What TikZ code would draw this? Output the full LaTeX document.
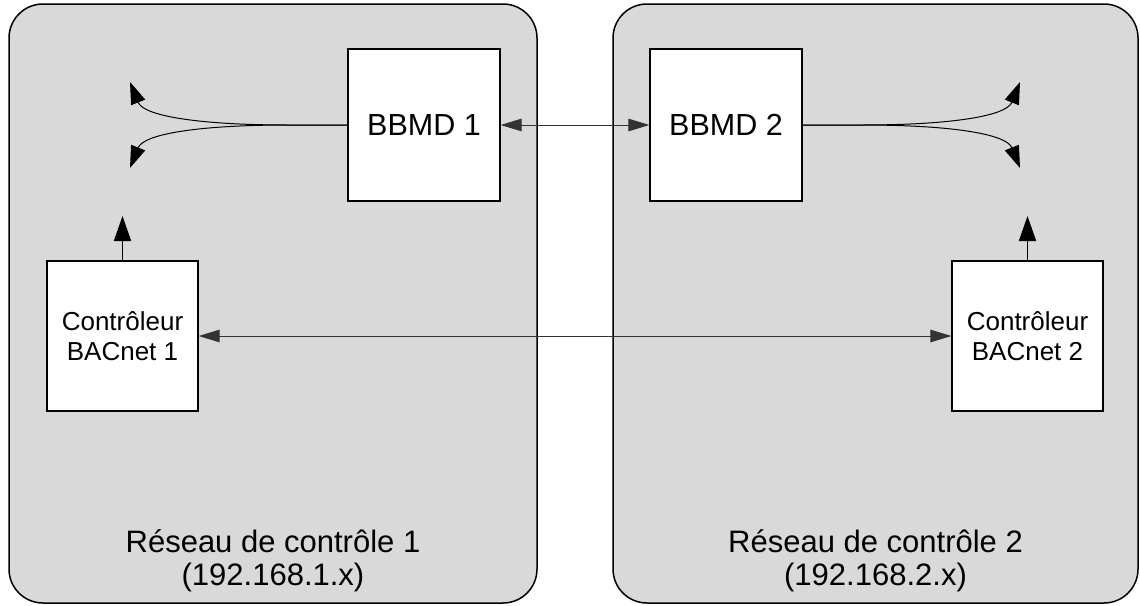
\documentclass[tikz,border=0pt]{standalone}
\usepackage{fontspec}
\setmainfont{Liberation Sans}
\usetikzlibrary{arrows.meta}
\definecolor{panelgray}{RGB}{217,217,217}
\begin{document}
\begin{tikzpicture}[x=1pt,y=-1pt,
  panel/.style={draw=black,line width=1.5pt,fill=panelgray,rounded corners=34pt},
  box/.style={draw=black,line width=1.2pt,fill=white,inner sep=0pt,align=center},
  bbmdbox/.style={box,minimum width=152pt,minimum height=152pt,font=\fontsize{30.5}{36}\selectfont},
  ctrlbox/.style={box,minimum width=151pt,minimum height=150pt,font=\fontsize{26}{30}\selectfont},
  netlabel/.style={align=center,inner sep=0pt,font=\fontsize{31}{33.5}\selectfont},
  thinarrow/.style={draw=black!80,line width=0.9pt,{Triangle[length=21pt,width=12.5pt]}-{Triangle[length=21pt,width=12.5pt]}},
  thickarrow/.style={draw=black,line width=1.8pt,-{Triangle[length=25pt,width=17pt]}},
  curvearrow/.style={draw=black,line width=1pt,-{Triangle[length=22pt,width=15pt]}}]
\useasboundingbox (0,0) rectangle (1140,605);
% panels
\draw[panel] (9,4) rectangle (537,603);
\draw[panel] (613,4) rectangle (1138,603);
% boxes
\node[bbmdbox] (b1) at (424,125) {BBMD 1};
\node[bbmdbox] (b2) at (726,125) {BBMD 2};
\node[ctrlbox] (c1) at (122.5,336) {Contrôleur\\BACnet 1};
\node[ctrlbox] (c2) at (1027.5,336) {Contrôleur\\BACnet 2};
% labels
\node[netlabel] (l1) at (273,561) {Réseau de contrôle 1\\(192.168.1.x)};
\node[netlabel] (l2) at (875.5,561) {Réseau de contrôle 2\\(192.168.2.x)};
% free ends
\coordinate (u1) at (130,82);
\coordinate (d1) at (130,168);
\coordinate (u2) at (1020,82);
\coordinate (d2) at (1020,168);
\coordinate (t1) at (122.5,216);
\coordinate (t2) at (1027.5,216);
% connectors
\draw[thinarrow] (b1.east) -- (b2.west);
\draw[thinarrow] (c1.east) -- (c2.west);
\draw[thickarrow] (c1.north) -- (t1);
\draw[thickarrow] (c2.north) -- (t2);
\draw[curvearrow] (b1.west) -- ++(-60,0) .. controls (205,125) and (144,117) .. (u1);
\draw[curvearrow] (b1.west) -- ++(-60,0) .. controls (205,125) and (144,133) .. (d1);
\draw[curvearrow] (b2.east) -- ++(60,0) .. controls (945,125) and (1006,117) .. (u2);
\draw[curvearrow] (b2.east) -- ++(60,0) .. controls (945,125) and (1006,133) .. (d2);
\end{tikzpicture}
\end{document}
